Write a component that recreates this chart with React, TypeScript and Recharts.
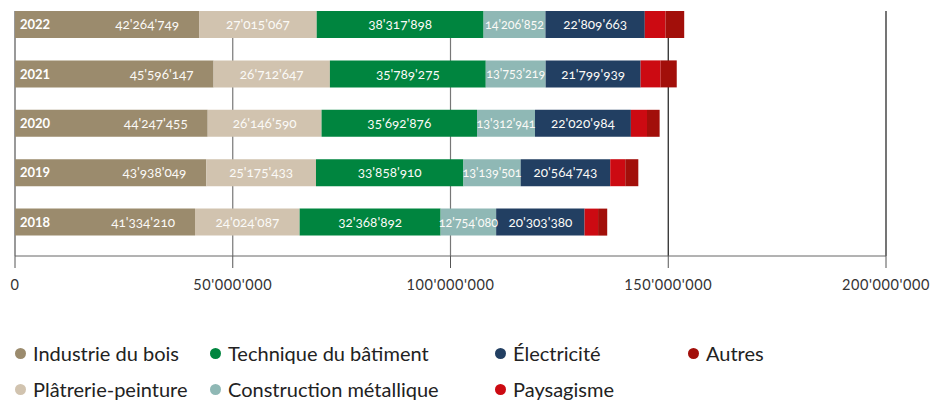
import { Bar, BarChart, CartesianGrid, LabelList, XAxis, YAxis } from "recharts";

const years = ["2022", "2021", "2020", "2019", "2018"];
const bois = [42264749, 45596147, 44247455, 43938049, 41334210];
const platrerie = [27015067, 26712647, 26146590, 25175433, 24024087];
const technique = [38317898, 35789275, 35692876, 33858910, 32368892];
const metal = [14206852, 13753219, 13312941, 13139501, 12754080];
const electricite = [22809663, 21799939, 22020984, 20564743, 20303380];
const paysagisme = [4750000, 4600000, 3700000, 3450000, 3100000];
const autres = [4300000, 3700000, 2900000, 3000000, 2100000];
const xTicks = [0, 50000000, 100000000, 150000000, 200000000];

const series = [
  { key: "bois", name: "Industrie du bois", color: "#9b8b6d", values: bois, label: "right" },
  { key: "platrerie", name: "Plâtrerie-peinture", color: "#d1c3af", values: platrerie, label: "center" },
  { key: "technique", name: "Technique du bâtiment", color: "#00853f", values: technique, label: "center" },
  { key: "metal", name: "Construction métallique", color: "#8fb8b5", values: metal, label: "center" },
  { key: "electricite", name: "Électricité", color: "#223f62", values: electricite, label: "center" },
  { key: "paysagisme", name: "Paysagisme", color: "#cc0a12", values: paysagisme, label: "none" },
  { key: "autres", name: "Autres", color: "#a20f0a", values: autres, label: "none" },
];

const data = years.map((year, i) => {
  const row: Record<string, string | number> = { year };
  series.forEach((s) => {
    row[s.key] = s.values[i];
  });
  return row;
});

const fmt = (v: any) => String(v).replace(/\B(?=(\d{3})+(?!\d))/g, "'");

const font = "Lato, 'Open Sans', sans-serif";
const legendCols = [15, 210, 495, 688];
const legendRows = [353, 389];

function GridLine(props: any) {
  const dark = props.x1 > 600;
  const left = props.x1 < 20;
  return (
    <line
      key={props.key}
      x1={props.x1}
      x2={props.x2}
      y1={props.y1 + 11}
      y2={props.y2}
      stroke={dark ? "#1a1a1a" : left ? "#555" : "#777"}
      strokeWidth={1.2}
    />
  );
}

export default function App() {
  return (
    <div style={{ position: "absolute", left: 0, top: 0, width: 932, height: 401, fontFamily: font }}>
      <BarChart
        width={932}
        height={300}
        data={data}
        layout="vertical"
        margin={{ top: 0, right: 46, left: 15, bottom: 0 }}
        style={{ fontFamily: font }}
      >
        <CartesianGrid horizontal={false} vertical={GridLine} />
        <XAxis
          type="number"
          domain={[0, 200000000]}
          ticks={xTicks}
          tickFormatter={fmt}
          height={44}
          tickSize={12}
          tickMargin={12}
          axisLine={{ stroke: "#666" }}
          tickLine={{ stroke: "#555" }}
          tick={{ fill: "#333", fontSize: 14.5, letterSpacing: 0.6, fontVariantNumeric: "oldstyle-nums" } as any}
        />
        <YAxis type="category" dataKey="year" hide padding={{ top: 0, bottom: 9 }} />
        {series.map((s) => (
          <Bar key={s.key} dataKey={s.key} stackId="a" fill={s.color} barSize={27} isAnimationActive={false}>
            {s.key === "bois" && (
              <LabelList
                dataKey="year"
                position="insideLeft"
                offset={5}
                fill="#fff"
                style={{ fontSize: 13, fontWeight: 700 }}
              />
            )}
            {s.label !== "none" && (
              <LabelList
                dataKey={s.key}
                position={s.label === "right" ? "insideRight" : "center"}
                offset={s.label === "right" ? 20 : 5}
                formatter={fmt}
                fill="#fbfaf7"
                style={{ fontSize: s.key === "metal" ? 12.5 : 13.5, fontVariantNumeric: "oldstyle-nums" }}
              />
            )}
          </Bar>
        ))}
      </BarChart>
      {series.map((s, i) => (
        <div
          key={s.key}
          style={{
            position: "absolute",
            left: legendCols[Math.floor(i / 2)],
            top: legendRows[i % 2] - 13,
            height: 26,
            display: "flex",
            alignItems: "center",
            whiteSpace: "nowrap",
          }}
        >
          <span
            style={{
              width: 11,
              height: 11,
              borderRadius: "50%",
              background: s.color,
              display: "inline-block",
              marginRight: 7,
            }}
          />
          <span style={{ fontSize: 20, color: "#222" }}>{s.name}</span>
        </div>
      ))}
    </div>
  );
}
